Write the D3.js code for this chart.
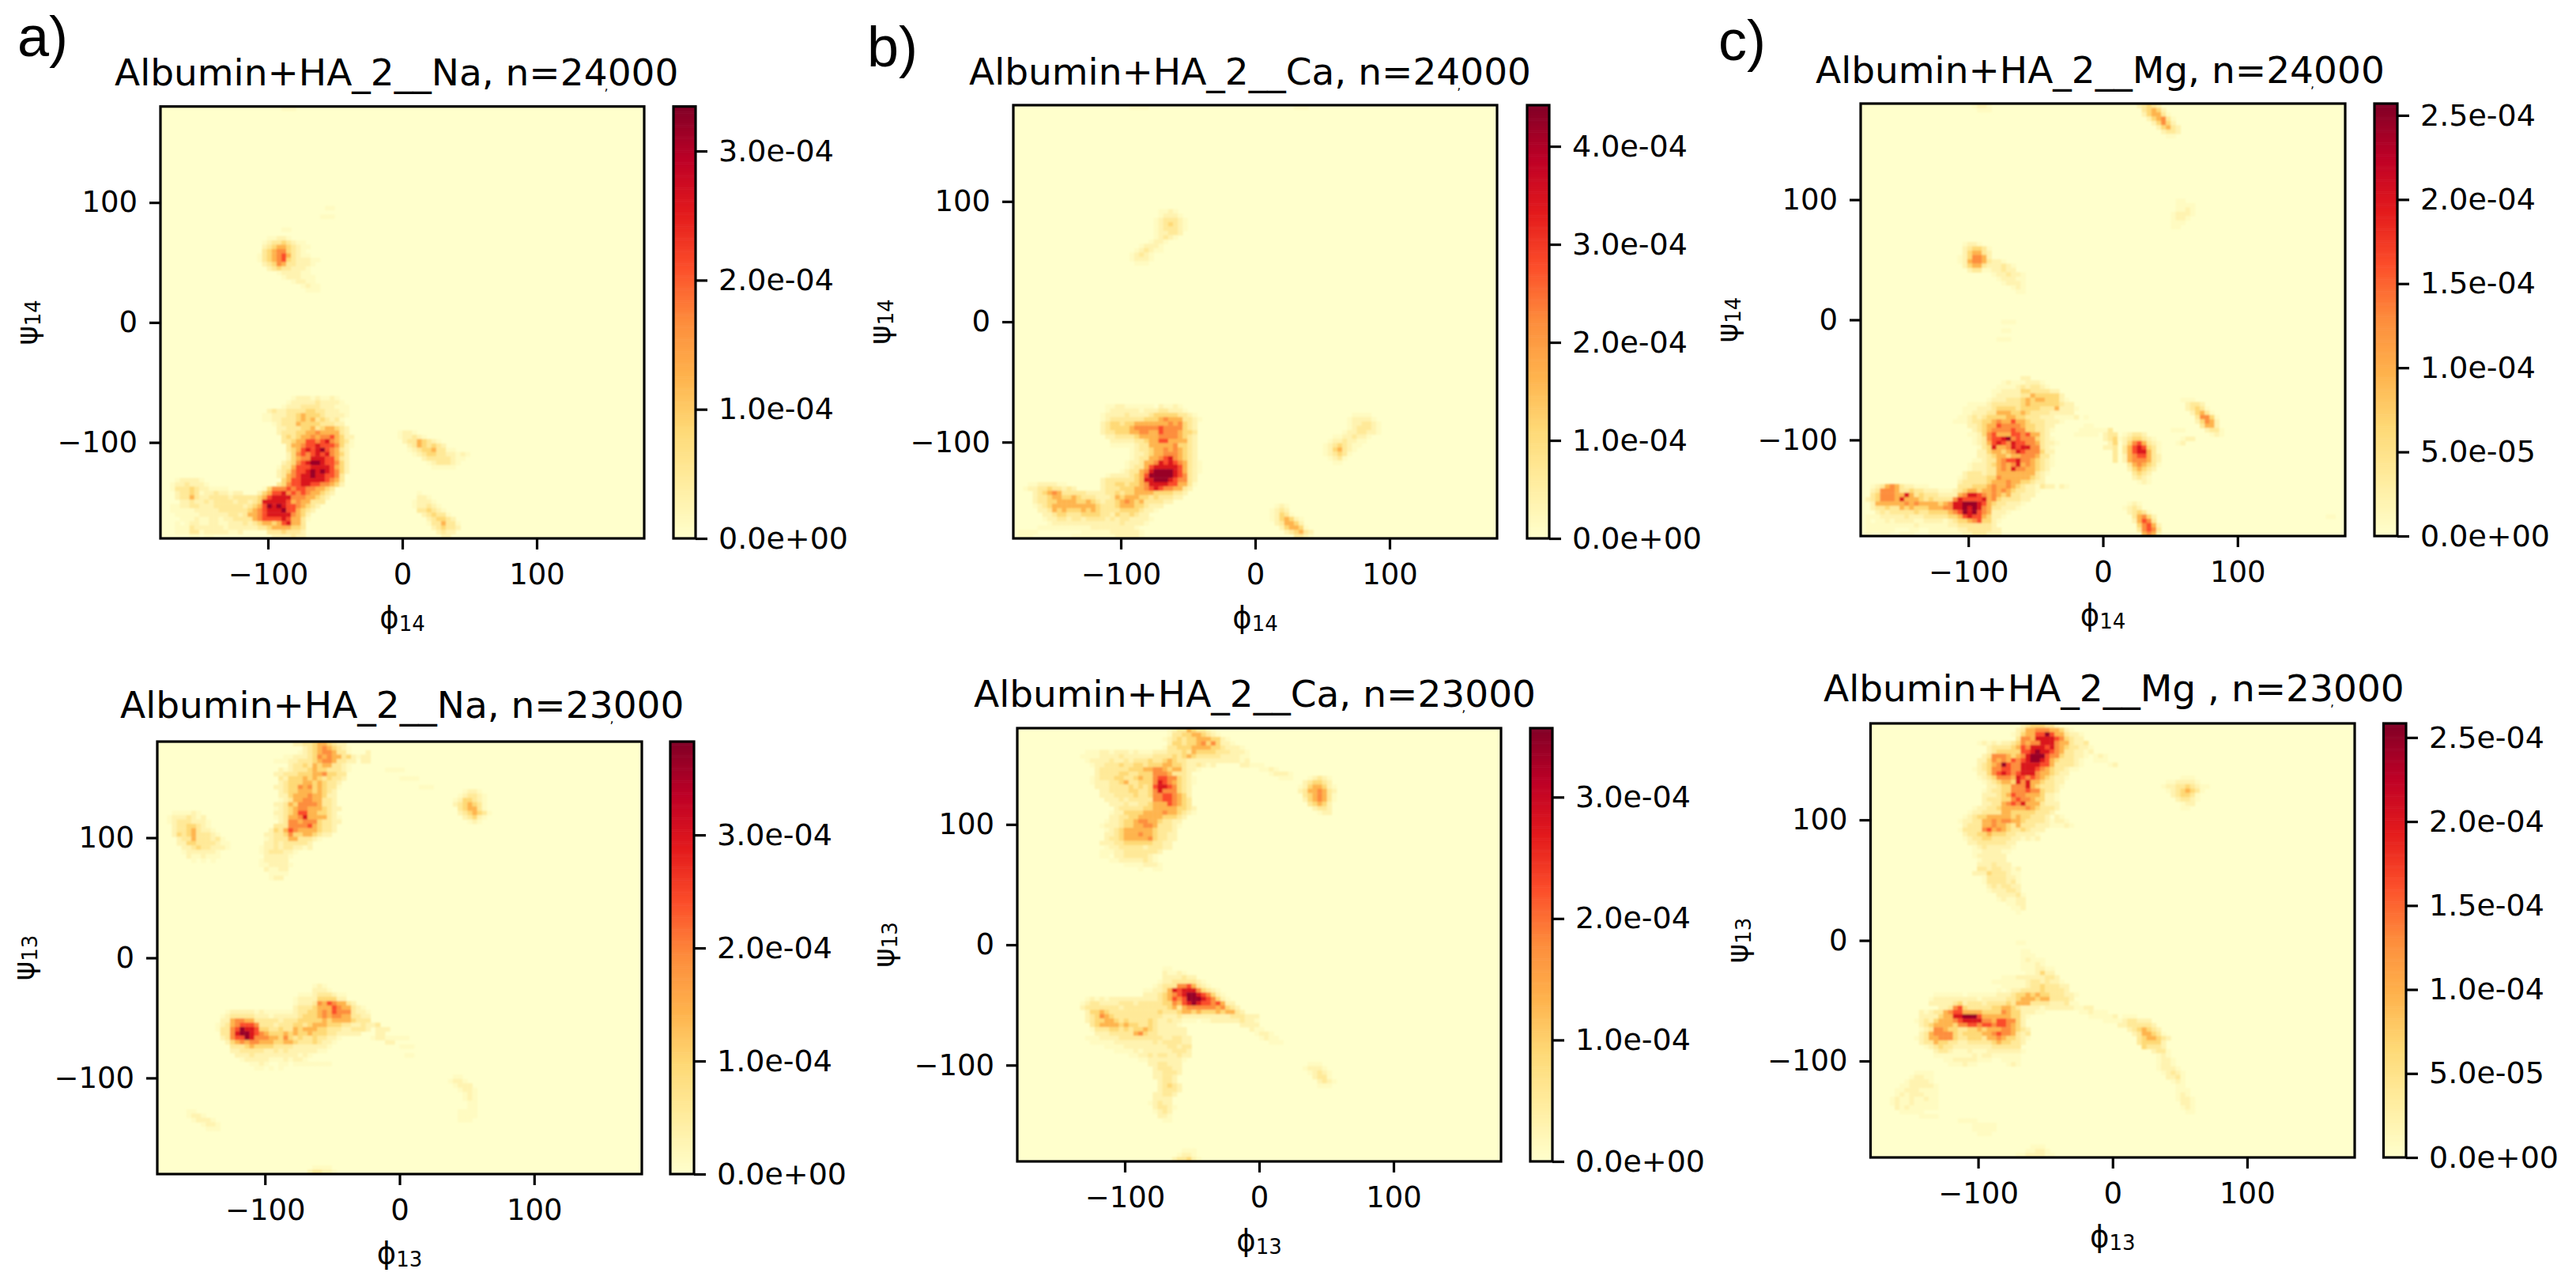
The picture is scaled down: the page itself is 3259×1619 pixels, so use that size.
<!DOCTYPE html>
<html><head><meta charset="utf-8">
<script src="https://cdn.jsdelivr.net/npm/d3@7"></script>
<style>
html,body{margin:0;padding:0;background:#fff}
svg{display:block}
text{font-family:"DejaVu Sans";fill:#000}
</style></head><body>
<svg id="fig" width="3259" height="1619"></svg>
<script>
// ---------- data ----------
// each cell run: [row (0 = top, psi 180), first column (0 = phi -180), level digits]
const binCount = 100;
const levelFractions = [0, .03, .08, .15, .25, .37, .5, .63, .78, .95];

const cellsNa24 = [
[0,25,"111"],[23,34,"11"],[25,33,"111"],[28,25,"11"],[30,22,"11221"],[31,21,"123343211"],[32,21,"2345543211"],[33,21,"345664321"],
[34,20,"13456753211"],[35,20,"1345674322211"],[36,21,"23465332221"],[37,22,"234332221"],[38,24,"1222211"],[39,25,"1222111"],[40,27,"12211"],[41,29,"1211"],[42,30,"111"],
[67,27,"1222121121"],[68,26,"122222322221"],[69,25,"12223333222111"],[70,22,"23223333443322211"],[71,21,"112223345444322221"],
[72,21,"11223334545343231"],[73,23,"123335444433322"],[74,24,"223334453455432"],[75,24,"233344556555532"],[76,25,"343455656675422"],
[77,25,"334557767865431"],[78,26,"35567787776421"],[79,26,"3457878976532"],[80,26,"2467678786542"],[81,26,"2456688877532"],
[82,25,"23467899877642"],[83,24,"133577788887542"],[84,24,"234677898987642"],[85,24,"23567889887763"],[86,25,"4577888887653"],
[87,24,"34677887766542"],[88,21,"146667677665543"],[89,20,"2457786767655432"],[90,20,"457888866655432"],[91,18,"2348888875655333"],
[92,17,"2345798987765432"],[93,17,"345678889775432"],[94,16,"235567888886542"],[95,17,"33567777875531"],[96,18,"234554578553"],
[97,20,"3345555443"],[98,22,"33343332"],[99,23,"2222322"],
[86,3,"122221"],[87,2,"12232221"],[88,2,"133343221111"],[89,3,"23343122322122"],[90,3,"23353223333233333"],[91,4,"22322323333233"],
[92,2,"112233222333333"],[93,2,"111112222233333"],[94,3,"1111122222233"],[95,4,"1112112212233"],[96,3,"101221122112223"],
[97,3,"11132222221222222"],[98,3,"11133122222112"],[99,6,"11011"],
[75,49,"1221"],[76,49,"122321"],[77,50,"23354321"],[78,51,"23543432"],[79,51,"1234453311"],[80,52,"123443322121"],[81,54,"233333211"],[82,55,"1233321"],[83,56,"11111"],
[89,53,"1"],[90,53,"221"],[91,52,"12221"],[92,52,"122321"],[93,53,"334321"],[94,54,"234331"],[95,55,"234432"],[96,55,"1335331"],[97,56,"234332"],[98,57,"2322"],[99,58,"22"]
];

const cellsNa23 = [
[0,28,"22334554322"],[1,30,"2345654321"],[2,29,"12345665331"],[2,43,"2"],[3,26,"112223465655342122"],[4,24,"11122333456653322022"],
[5,27,"2334354553321"],[6,25,"212333454433321"],[7,24,"223334445564433"],[8,25,"32444545434332"],[9,25,"2344455454332"],
[10,24,"22344656454331"],[11,25,"234455545432"],[12,25,"224555655422"],[13,25,"123556655332"],[14,24,"2235466665332"],
[15,24,"12345665554322"],[16,24,"2234577554432"],[17,24,"12355685555321"],[18,25,"2366566643322"],[19,24,"3336666754332"],
[20,23,"24357655554332"],[21,22,"22334644554322"],[22,22,"123335533321"],[23,22,"2232333332"],[24,21,"12232332212"],[25,21,"12333221"],
[26,22,"222221"],[27,21,"122222"],[28,21,"1122221"],[29,22,"21122"],[30,23,"1111"],[31,23,"122"],
[16,3,"111121"],[17,2,"12223212"],[18,2,"123332221"],[19,3,"23344321"],[20,3,"233453221"],[21,3,"2434533321"],[22,4,"2335333231"],
[23,4,"22443333211"],[24,5,"2234332221"],[25,5,"12222221"],[26,6,"2112111"],[27,7,"10101"],
[6,47,"1111"],[8,50,"1111"],[10,54,"111"],
[11,63,"1221"],[12,62,"123321"],[13,61,"1244321"],[14,61,"2345431"],[15,62,"345531"],[16,62,"2345431"],[17,63,"23421"],[18,64,"121"],
[56,32,"121"],[57,32,"2221"],[58,29,"1112333211"],[59,28,"12222444422"],[60,28,"1222365765532"],[61,28,"233345557655321"],
[62,14,"122222121111112334456576663221"],[63,13,"1233333222122222344456566553322"],[64,13,"2256655333332333444445455554333"],
[65,12,"1235677763332333443455544433223223"],[66,12,"133679887443343354555443332233320222"],[67,13,"3368998765444545445444332222200022"],
[68,13,"2367798666554643433433221"],[68,44,"1221"],[69,14,"24565665554455433343221"],[69,47,"22"],[70,15,"333454444333322222221"],
[71,15,"22333332232322222211"],[72,16,"2223222222222121"],[73,17,"12222211121221"],[74,19,"11210011011111111"],[75,20,"110101"],
[68,48,"1111"],[70,50,"111"],[72,51,"11"],
[77,61,"11"],[78,60,"1221"],[79,61,"1222"],[80,62,"1221"],[81,63,"121"],[82,63,"121"],[83,64,"11"],[84,64,"11"],[85,62,"1111"],[86,62,"1111"],[87,62,"111"],
[85,6,"11"],[86,6,"1221"],[87,7,"12221"],[88,9,"1221"],[89,10,"111"],[98,32,"1111"],[99,31,"233221"]
];

const cellsCa24 = [
[0,24,"1111"],[0,58,"111"],[24,30,"1121"],[25,30,"12221"],[26,29,"1233321"],[27,29,"1234321"],[28,29,"1233321"],[29,29,"122332"],[30,29,"12321"],
[31,28,"1221"],[32,26,"12221"],[33,25,"123211"],[34,24,"12321"],[35,24,"12221"],[36,25,"111"],
[69,19,"1122111111021121"],[70,19,"12222221222332221"],[71,18,"12222322223444443321"],[72,18,"123333333444565553321"],
[73,18,"23443445555555656432"],[74,18,"23444456666676666432"],[75,18,"23344455665576665443"],[76,19,"2233334555566665432"],
[77,20,"222223345577555532"],[78,20,"111112335555564432"],[79,24,"12334556565432"],[80,24,"12234556665432"],[81,24,"12335567865432"],
[82,23,"1223556878765321"],[83,23,"1233578888875321"],[84,22,"12335689999875321"],[85,19,"1222234579999987632"],[86,18,"23333334588999876632"],
[87,3,"11222211"],[87,18,"23344344568888775531"],[88,2,"12233433232"],[88,18,"2333444556787665532"],[89,4,"23456533333222233434455554444332"],
[90,4,"2334554454333222354555443433322"],[91,4,"23344555544543233456545333322"],[92,4,"123455555555543334555443222"],[93,5,"2235454445454333344443221"],
[94,6,"2234433344443324334322"],[95,6,"12233233233332323322221"],[96,7,"122222222222222322221"],[97,5,"111111111112222222221"],
[98,1,"1111"],[98,14,"1111112222221"],[99,1,"111"],[99,12,"111111111222221"],
[71,70,"1111"],[72,69,"122221"],[73,69,"1223321"],[74,69,"1233321"],[75,68,"12233221"],[76,66,"11223221"],[77,65,"12232211"],[78,64,"12343211"],
[79,64,"1245321"],[80,64,"123431"],[81,65,"1231"],[82,66,"11"],
[92,54,"121"],[93,53,"1232"],[94,53,"12431"],[95,53,"1245421"],[96,54,"235542"],[97,55,"245541"],[98,56,"234532"],[99,58,"3321"]
];

const cellsCa23 = [
[0,31,"1233543321"],[1,31,"13344554321"],[2,30,"12343445554421"],[3,31,"24434456464221"],[4,30,"13344455554432221"],
[5,14,"1112212221211122233343544443332221"],[6,13,"11112222322222233334345433333222211"],[7,14,"1222232232333433454332222222222212"],
[8,15,"12233343344344455443223212"],[8,46,"22"],[9,16,"2333333444556654553221"],[10,16,"23333443344466653332"],
[11,15,"1233344334544677664321"],[12,15,"1222334533444687654321"],[13,16,"22233334343478876432"],[14,17,"2233334433468666432"],
[15,17,"2223333433466776542"],[16,18,"222323333366776543"],[17,19,"22232233455576543"],[18,20,"23333344555554432"],
[19,19,"122444455556554321"],[20,19,"2233445555544432"],[21,18,"1223445665543322"],[22,17,"12223445566533321"],[23,18,"123455555543332"],
[24,18,"223455565543322"],[25,18,"233455555643322"],[26,17,"222334444443322"],[27,18,"12233333233322"],[28,17,"1112233333332"],
[29,17,"110223333321"],[30,19,"1122222321"],[31,22,"11112221"],[32,25,"10011"],
[8,48,"111"],[9,50,"1121"],[10,52,"12221"],[11,54,"111"],
[11,60,"12321"],[12,59,"234432"],[13,58,"12455421"],[14,58,"23556532"],[15,59,"3456531"],[16,59,"2456531"],[17,60,"34542"],[18,61,"2332"],[19,62,"122"],
[55,30,"11"],[56,30,"21121"],[57,30,"2222322"],[58,29,"1223333321"],[59,28,"123336675321"],[60,26,"1122358788864321"],[61,26,"22234567899876421"],
[62,14,"121212222222222345767999876421"],[63,13,"12332222333233333446578987767522"],[64,13,"233333332333333333453566666656432"],
[65,14,"244543333333333433345545444545532"],[66,14,"234654333333333322232222222222333222"],[67,14,"234455434333343223221110112222223221"],
[68,15,"3455554544334322221"],[68,46,"2222"],[69,15,"13334434344543222222"],[69,48,"211"],[70,16,"2223333356433222222"],[70,49,"1221"],
[71,14,"1112222333333333223322"],[71,50,"1211"],[72,15,"111112222222232333322"],[72,52,"111"],[73,18,"111122222222233233"],[74,20,"1111212222223332"],
[75,23,"1122323322322"],[76,25,"1122222221"],[77,27,"2233222"],[78,28,"233322"],[79,28,"223332"],[80,28,"22332"],[81,29,"2332"],[82,29,"23432"],
[83,29,"23332"],[84,28,"22332"],[85,28,"2222"],[86,27,"12322"],[87,28,"23321"],[88,28,"1232"],[89,29,"221"],[90,30,"11"],
[77,60,"111"],[78,59,"12221"],[79,60,"12321"],[80,61,"2331"],[81,62,"2321"],[82,62,"111"],[97,34,"111"],[98,33,"1221"],[99,32,"233421"]
];

const cellsMg24 = [
[0,23,"1221"],[1,24,"111"],[0,57,"23432"],[1,58,"34542"],[2,58,"245531"],[3,59,"245631"],[4,60,"24642"],[5,61,"24532"],[6,62,"2332"],[7,63,"11"],
[22,65,"11"],[23,65,"1111"],[24,65,"1121"],[25,64,"12221"],[26,64,"1221"],[27,64,"111"],[28,64,"11"],
[32,21,"1221"],[33,21,"234431"],[34,21,"245532"],[35,20,"1246652"],[36,20,"1256653221"],[37,21,"24553222321"],[38,22,"2331122322"],
[39,27,"1223221"],[40,28,"122211"],[41,29,"12221"],[42,31,"121"],[43,32,"11"],[50,29,"111"],[52,29,"11"],[54,28,"111"],
[63,33,"22"],[64,29,"121112221"],[65,28,"11112323321"],[66,27,"11222244333322"],[67,27,"122222335444442"],[68,26,"12223334545544421"],
[69,22,"1111233333345444444322"],[70,21,"111222344443444433352221"],[71,21,"11222335554454333322222"],[72,20,"112323444455443332221111201"],
[73,19,"11123344565575543332221"],[74,22,"223455766665443322"],[74,46,"11"],[75,23,"23456666766443321"],[75,45,"1111113"],
[76,22,"11246755577675532"],[76,44,"111110233"],[77,23,"12367789676664321"],[77,50,"234"],[78,23,"123578768776653221"],[78,51,"24"],
[79,24,"1348556878866321"],[79,50,"223"],[80,24,"2245545687666422"],[80,52,"3"],[81,24,"2234554556665331"],[81,52,"3"],
[82,23,"11233567786654321"],[82,52,"3"],[83,22,"122234565685654321"],[84,22,"12223356586655432"],[85,21,"233323355555555321"],
[86,20,"123333446555555432"],[87,20,"233333455565544322"],[88,2,"123565322111"],[88,20,"33344456556543221322021"],
[89,2,"23666533433222111234554556565433221"],[90,2,"3466655853433322225688765654533222"],[91,1,"2346665855543433336877778564333322"],
[92,2,"25555556565555456889998754332221"],[93,2,"2334335454445556688989865332221"],[94,3,"2323333343344445679897652221"],
[95,1,"11122222322233333445787754221"],[96,1,"1011212222112222123445674421"],[97,1,"111111111121111112233333332"],
[98,1,"111111"],[98,10,"1100111111223333322"],[99,1,"1001100111"],[99,14,"111111122333222"],
[68,66,"111"],[69,67,"2332"],[70,67,"23431"],[71,68,"24531"],[72,69,"36641"],[73,69,"24652"],[74,70,"3552"],[75,71,"2331"],[76,72,"121"],
[76,54,"12332"],[77,53,"12344321"],[78,54,"24675321"],[79,54,"35787431"],[80,54,"35788531"],[81,54,"25677532"],[82,54,"25666532"],[83,55,"3565431"],
[84,55,"245432"],[85,56,"3432"],[86,56,"2321"],[87,57,"121"],[75,64,"111"],[77,66,"122"],[78,65,"12"],
[92,55,"121"],[93,54,"1232"],[94,55,"23431"],[95,56,"35642"],[96,56,"25763"],[97,57,"46752"],[98,57,"36763"],[99,58,"5652"],[95,96,"11"]
];

const cellsMg23 = [
[0,31,"23444331"],[1,30,"235566655421"],[2,29,"124557797553221"],[3,30,"36658888764322"],[4,22,"12121223465668886553223"],
[5,24,"2333345768887865433221"],[6,24,"2344444778988765332212"],[7,23,"23666545689997664332210121"],[8,22,"224656576789987543332100111"],
[9,22,"2345697668888775333321"],[9,49,"12"],[10,21,"1234667766888765433211"],[11,22,"2246787678886554322"],[12,22,"1234666587676543221"],
[13,23,"12345548685543322"],[14,24,"2234466685433321"],[15,23,"1233446667664332"],[16,23,"2223457665554221"],[17,23,"2333446766544221"],
[18,23,"2233567685553222"],[19,21,"122334555556543332"],[20,20,"122333355444443332"],[21,19,"123445555545443332021"],
[22,18,"12233556566554333321221"],[23,19,"23335565543533322211121"],[24,18,"133336756543343222"],[25,19,"2334454443322221"],
[26,19,"1233443333221212"],[27,20,"2233333322"],[28,21,"123222221"],[29,21,"11222211"],[30,21,"1222222"],[31,22,"122222"],[32,22,"2223222"],
[33,22,"332332212"],[34,21,"2224333211"],[35,23,"13333221"],[36,23,"13333231"],[37,24,"2323322"],[38,24,"1222332"],[39,26,"222231"],
[40,26,"121122"],[41,28,"1122"],[42,29,"112"],[43,30,"1"],
[12,64,"111"],[13,61,"1122221"],[14,60,"1223343211"],[15,61,"12345431"],[16,62,"234431"],[17,63,"23321"],[18,64,"122"],[19,64,"11"],
[50,30,"11"],[52,31,"11"],[53,31,"111"],[54,31,"12111"],[55,31,"11121"],[56,31,"1112211"],[57,32,"112422"],[58,27,"111222222332"],
[59,25,"111111123323221"],[60,27,"11111233433322"],[61,26,"101223333433332"],[62,13,"111111011111122234454544333221"],
[63,12,"122222222212222233455545533332"],[64,12,"2222234233323333435553333222311"],[65,14,"22367433333445543222212222221122"],
[66,10,"21233567755554444654422211"],[66,43,"112111"],[67,10,"22224558899975555554421"],[67,45,"1111120111"],
[68,9,"12324555678888665776642"],[68,48,"111123322"],[69,10,"2345555466776776776542"],[69,51,"223333"],[70,10,"12366544334454555665432"],[70,53,"2345"],
[71,10,"23566664344445567665323"],[71,54,"235"],[72,9,"123556664334443556544321"],[73,10,"2335443322333334544332"],[73,55,"34"],
[74,11,"12343322222222333333"],[74,56,"4"],[75,13,"2332111211122222221"],[76,13,"111111112122111111"],[77,15,"1122222111001111"],[78,16,"111211000000121"],
[68,57,"2"],[69,57,"32"],[70,57,"432"],[71,57,"5431"],[72,55,"3455432"],[73,57,"4442"],[74,57,"3332"],[75,58,"2331"],[76,59,"121"],[77,60,"11"],
[77,59,"1221"],[78,59,"1221"],[79,59,"12221"],[80,60,"12321"],[81,61,"2231"],[82,62,"121"],[83,63,"11"],[84,63,"111"],[85,63,"121"],[86,63,"1221"],[87,64,"221"],[88,64,"121"],[89,65,"11"],
[80,9,"1111"],[81,8,"12211"],[82,7,"122221"],[83,6,"11222221"],[84,5,"112221111"],[85,5,"121222111"],[86,4,"1211211211"],[87,4,"1211211111"],[88,5,"212111111"],[89,6,"11111"],
[90,10,"1111"],[91,18,"1111"],[92,21,"11111"],[93,21,"11111"],[94,22,"111"],[97,33,"111"],[98,32,"11221"],[99,30,"11222211"]
];

const panelCells = [cellsNa24, cellsCa24, cellsMg24, cellsNa23, cellsCa23, cellsMg23];
const vmaxes = [3.345e-4, 4.42e-4, 2.57e-4, 3.826e-4, 3.568e-4, 2.584e-4];
const titles = ["Albumin+HA_2__Na, n=24,000","Albumin+HA_2__Ca, n=24,000","Albumin+HA_2__Mg, n=24,000",
                "Albumin+HA_2__Na, n=23,000","Albumin+HA_2__Ca, n=23,000","Albumin+HA_2__Mg , n=23,000"];
const angleSymbols = [["ϕ","ψ","14"],["ϕ","ψ","14"],["ϕ","ψ","14"],["ϕ","ψ","13"],["ϕ","ψ","13"],["ϕ","ψ","13"]];
const axisTicks = [-100, 0, 100];
const axisTickLabels = ["−100", "0", "100"];
const barTicks1e4 = [0, 1e-4, 2e-4, 3e-4];
const barTicks4 = [0, 1e-4, 2e-4, 3e-4, 4e-4];
const barTicksHalf = [0, 5e-5, 1e-4, 1.5e-4, 2e-4, 2.5e-4];
const panelBarTicks = [barTicks1e4, barTicks4, barTicksHalf, barTicks1e4, barTicks1e4, barTicksHalf];
const barLabels = new Map([[0,"0.0e+00"],[5e-5,"5.0e-05"],[1e-4,"1.0e-04"],[1.5e-4,"1.5e-04"],[2e-4,"2.0e-04"],[2.5e-4,"2.5e-04"],[3e-4,"3.0e-04"],[4e-4,"4.0e-04"]]);
const panelLetters = ["a)", "b)", "c)"];
const ylOrRd = ["#ffffcc","#ffeda0","#fed976","#feb24c","#fd8d3c","#fc4e2a","#e31a1c","#bd0026","#800026"];

// ---------- layout (pixels) ----------
const axesBox = [[203,815,134.7,681],[1282,1894,133,681],[2354,2967,131,678],[199,812,938,1485],[1287,1899,921,1469],[2366.5,2979,915,1464]];
const barBox  = [[852,880],[1932,1960],[3004,3033],[848,878],[1936,1964],[3015.5,3044]];
const titlePos = [[145,108],[1226,107],[2297,105],[152,908],[1232,894],[2307,887]];
const letterPos = [[22,71],[1097,84],[2174,76]];
const tickFont = 37, titleFont = 47, stroke = 3.2;

const svg = d3.select("#fig");
svg.append("rect").attr("width",3259).attr("height",1619).attr("fill","#fff");
const defs = svg.append("defs");
defs.append("filter").attr("id","soft").attr("x","-2%").attr("y","-2%").attr("width","104%").attr("height","104%")
    .append("feGaussianBlur").attr("stdDeviation",0.9);

panelLetters.forEach((t,i)=>{
  svg.append("text").attr("x",letterPos[i][0]).attr("y",letterPos[i][1])
     .style("font-family","'Liberation Sans'").style("font-size","72px").text(t);
});

function ramp(vmax){
  return d3.scaleLinear().domain(ylOrRd.map((_,i)=>vmax*i/(ylOrRd.length-1))).range(ylOrRd).interpolate(d3.interpolateRgb).clamp(true);
}

panelCells.forEach((runs,p)=>{
  const [x0,x1,y0,y1] = axesBox[p];
  const w = x1-x0, h = y1-y0, vmax = vmaxes[p];
  const x = d3.scaleLinear().domain([-180,180]).range([0,w]);
  const y = d3.scaleLinear().domain([-180,180]).range([h,0]);
  const color = ramp(vmax);
  const binSize = 360/binCount;
  const values = new Map();
  runs.forEach(([row,col,digits])=>{
    [...digits].forEach((ch,k)=>{
      const key = row*binCount+col+k;
      const v = levelFractions[+ch]*vmax;
      if(v>0 && v>(values.get(key)||0)) values.set(key,v);
    });
  });
  const cells = [...values].map(([key,v])=>({row:Math.floor(key/binCount),col:key%binCount,v}));

  const g = svg.append("g").attr("transform",`translate(${x0},${y0})`);
  const clipId = "clip"+p;
  defs.append("clipPath").attr("id",clipId).append("rect").attr("width",w).attr("height",h);
  g.append("rect").attr("width",w).attr("height",h).attr("fill",color(0));
  const holder = g.append("g").attr("clip-path",`url(#${clipId})`).append("g").attr("filter","url(#soft)");
  holder.selectAll("rect").data(cells).join("rect")
    .attr("x",d=>x(-180+d.col*binSize))
    .attr("y",d=>y(180-d.row*binSize))
    .attr("width",x(binSize-180)-x(-180)+0.4)
    .attr("height",y(180-binSize)-y(180)+0.4)
    .attr("fill",d=>color(d.v));
  g.append("rect").attr("width",w).attr("height",h).attr("fill","none").attr("stroke","#000").attr("stroke-width",stroke);

  const fmt = d=>axisTickLabels[axisTicks.indexOf(d)];
  const gx = g.append("g").attr("transform",`translate(0,${h})`)
    .call(d3.axisBottom(x).tickValues(axisTicks).tickFormat(fmt).tickSize(14).tickPadding(18));
  const gy = g.append("g").call(d3.axisLeft(y).tickValues(axisTicks).tickFormat(fmt).tickSize(14).tickPadding(15));
  [gx,gy].forEach(a=>{
    a.select(".domain").remove();
    a.selectAll("line").attr("stroke","#000").attr("stroke-width",stroke);
    a.selectAll("text").style("font-size",tickFont+"px").style("font-family","'DejaVu Sans'");
  });

  // axis labels
  const [phi,psi,sub] = angleSymbols[p];
  const xl = g.append("text").attr("x",w/2).attr("y",h+113).attr("text-anchor","middle").style("font-size","37px");
  xl.append("tspan").text(phi);
  xl.append("tspan").attr("dy",4).style("font-size","26px").text(sub);
  const yl = g.append("text").attr("transform",`translate(-156,${h/2}) rotate(-90)`).attr("text-anchor","middle").style("font-size","37px");
  yl.append("tspan").text(psi);
  yl.append("tspan").attr("dy",4).style("font-size","26px").text(sub);

  // title with the tiny comma of the thousands separator
  const tt = titles[p], cut = tt.lastIndexOf(",");
  const title = svg.append("text").attr("x",titlePos[p][0]).attr("y",titlePos[p][1]).style("font-size",titleFont+"px");
  title.append("tspan").text(tt.slice(0,cut));
  title.append("tspan").attr("dx",-4).attr("dy",6).style("font-size","16px").text(",");
  title.append("tspan").attr("dx",-1).attr("dy",-6).text(tt.slice(cut+1));

  // colour bar
  const [b0,b1] = barBox[p];
  const bw = b1-b0;
  const by = d3.scaleLinear().domain([0,vmax]).range([h,0]);
  const cb = svg.append("g").attr("transform",`translate(${b0},${y0})`);
  const steps = d3.range(256).map(i=>i/256*vmax);
  cb.selectAll("rect").data(steps).join("rect")
    .attr("x",0).attr("width",bw)
    .attr("y",d=>by(d+vmax/256))
    .attr("height",by(0)-by(vmax/256)+0.6)
    .attr("fill",d=>color(d));
  cb.append("rect").attr("width",bw).attr("height",h).attr("fill","none").attr("stroke","#000").attr("stroke-width",stroke);
  const ga = cb.append("g").attr("transform",`translate(${bw},0)`)
    .call(d3.axisRight(by).tickValues(panelBarTicks[p]).tickFormat(d=>barLabels.get(d)).tickSize(15).tickPadding(14));
  ga.select(".domain").remove();
  ga.selectAll("line").attr("stroke","#000").attr("stroke-width",stroke);
  ga.selectAll("text").style("font-size",(tickFont+1)+"px").style("font-family","'DejaVu Sans'");
});
</script>
</body></html>
